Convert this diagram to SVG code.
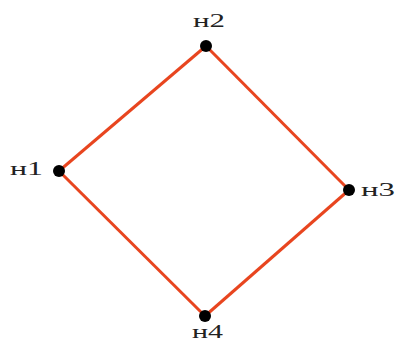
<svg xmlns="http://www.w3.org/2000/svg" width="396" height="342" viewBox="0 0 396 342">
<style>
.e{stroke:#e8451f;stroke-width:3;fill:none}
.d{fill:#000}
.t{font-family:"Liberation Serif","DejaVu Serif",serif;font-size:19px;fill:#222}
</style>
<rect width="396" height="342" fill="#fff"/>
<g id="edges">
<line class="e" x1="206" y1="46" x2="349" y2="190"/>
<line class="e" x1="349" y1="190" x2="205" y2="316"/>
<line class="e" x1="205" y1="316" x2="59" y2="171"/>
<line class="e" x1="59" y1="171" x2="206" y2="46"/>
</g>
<g id="n2"><circle class="d" cx="206" cy="46" r="6"/><text class="t" x="193" y="27" textLength="32" lengthAdjust="spacingAndGlyphs">н2</text></g>
<g id="n1"><circle class="d" cx="59" cy="171" r="6"/><text class="t" x="10" y="175" textLength="33" lengthAdjust="spacingAndGlyphs">н1</text></g>
<g id="n3"><circle class="d" cx="349" cy="190" r="6"/><text class="t" x="361" y="196" textLength="34" lengthAdjust="spacingAndGlyphs">н3</text></g>
<g id="n4"><circle class="d" cx="205" cy="316" r="6"/><text class="t" x="192" y="338" textLength="31" lengthAdjust="spacingAndGlyphs">н4</text></g>
</svg>
